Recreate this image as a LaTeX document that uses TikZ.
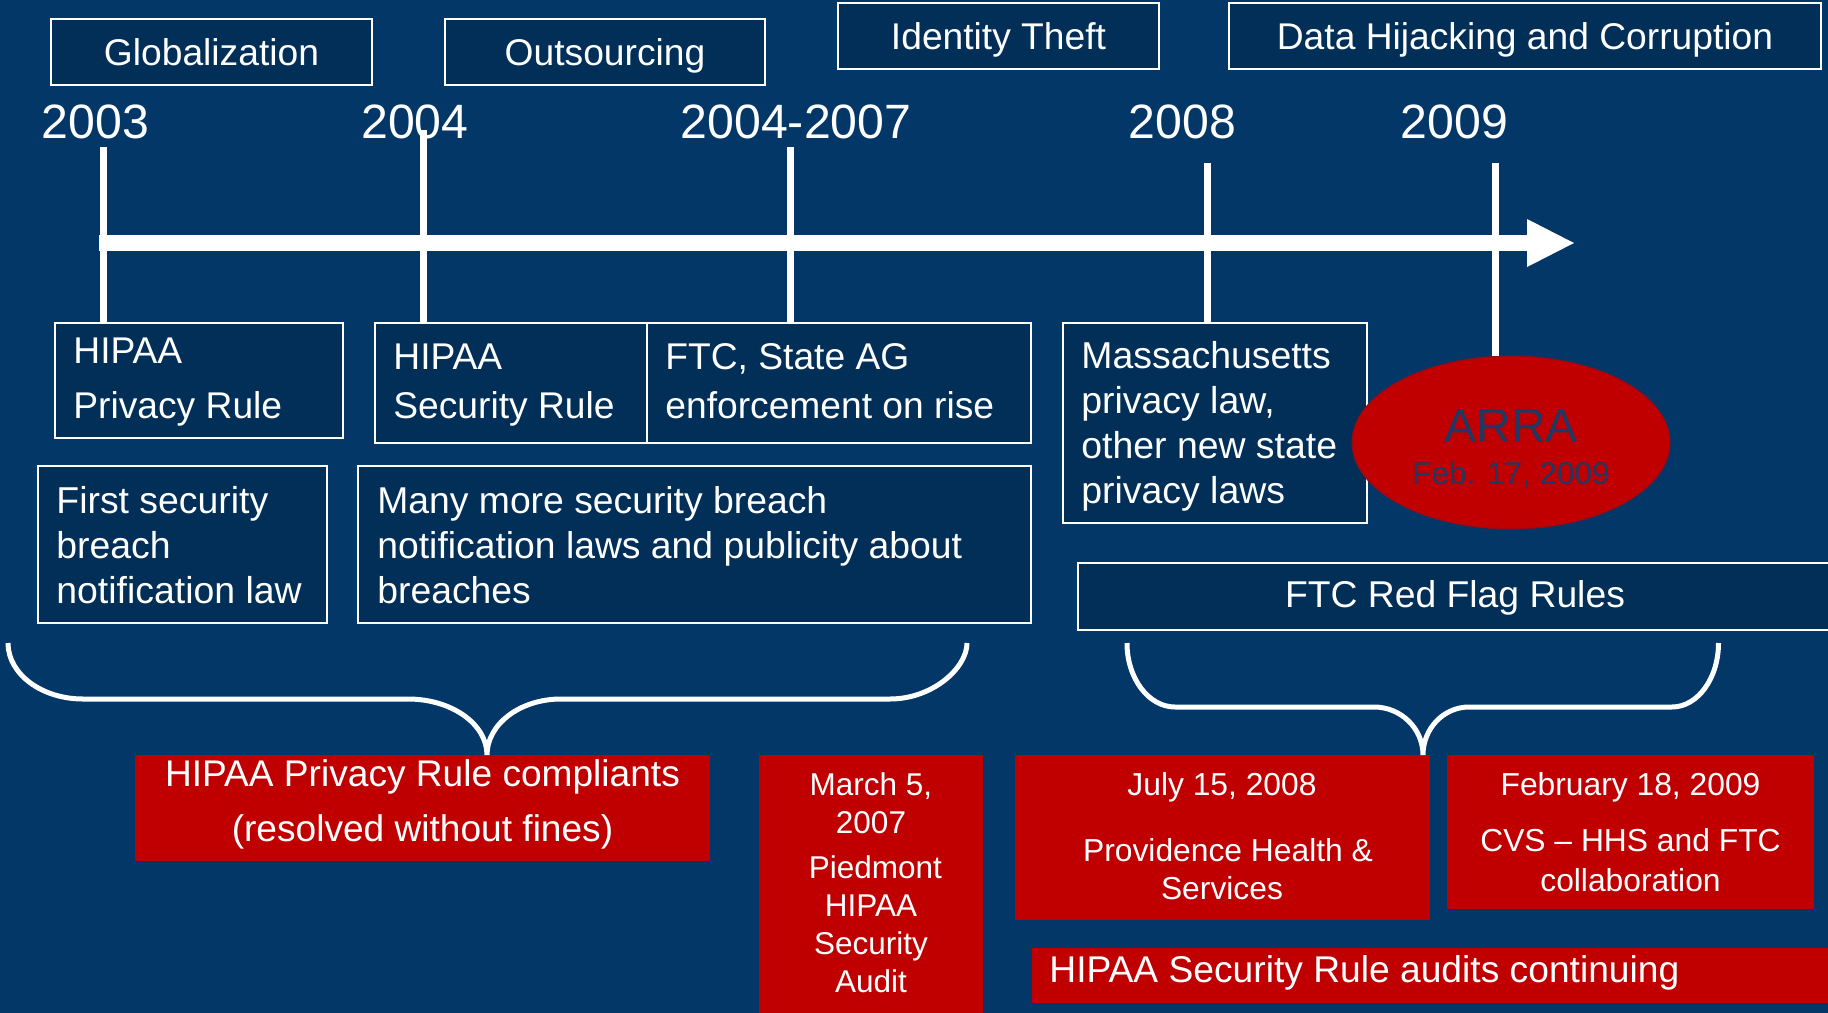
\documentclass[tikz,border=0pt]{standalone}
\usepackage{fontspec}
\setmainfont{Liberation Sans}
\usetikzlibrary{shapes.geometric,fit}

\definecolor{bg}{RGB}{2,55,104}
\definecolor{boxfill}{RGB}{1,47,88}
\definecolor{alertred}{RGB}{192,0,0}
\definecolor{arrablue}{RGB}{31,56,100}

\begin{document}
\begin{tikzpicture}[x=0.5pt,y=-0.5pt,
  tbox/.style={draw=white, line width=1pt, fill=boxfill, inner sep=0pt},
  rbox/.style={fill=alertred, inner sep=0pt},
  lbl/.style={inner sep=0pt, text=white},
  ftop/.style={font=\fontsize{18.6pt}{22pt}\selectfont},
  fyear/.style={font=\fontsize{24.1pt}{28pt}\selectfont},
  tick/.style={draw=white, line width=3.5pt},
  brace/.style={draw=white, line width=2.5pt},
]
\useasboundingbox (0,0) rectangle (1828,1013);
\fill[bg] (0,0) rectangle (1828,1013);
\clip (0,0) rectangle (1828,1013);

% ---- trend boxes along the top
\node[tbox, fit={(51,19) (372,85)}] (glob) {};
\node[lbl, ftop, anchor=base] (globt) at (211.5,65) {Globalization};
\node[tbox, fit={(445,19) (765,85)}] (outs) {};
\node[lbl, ftop, anchor=base] (outst) at (605,65) {Outsourcing};
\node[tbox, fit={(838,3) (1159,69)}] (ident) {};
\node[lbl, ftop, anchor=base] (identt) at (998.5,49) {Identity Theft};
\node[tbox, fit={(1229,3) (1821,69)}] (hijack) {};
\node[lbl, ftop, anchor=base] (hijackt) at (1525,49) {Data Hijacking and Corruption};

% ---- years
\node[lbl, fyear, anchor=base] (y03) at (95.5,138) {2003};
\node[lbl, fyear, anchor=base] (y04) at (415,138) {2004};
\node[lbl, fyear, anchor=base] (y0407) at (796,138) {2004-2007};
\node[lbl, fyear, anchor=base] (y08) at (1182.5,138) {2008};
\node[lbl, fyear, anchor=base] (y09) at (1454.5,138) {2009};

% ---- events below the axis
\node[tbox, fit={(55,323) (343,438)}] (privbox) {};
\node[lbl, anchor=base west, font=\fontsize{18.6pt}{27.5pt}\selectfont] (privt) at (73,363)
  {\parbox[t]{140pt}{\raggedright HIPAA\\Privacy Rule}};
\node[tbox, fit={(375,323) (647,443)}] (secbox) {};
\node[lbl, anchor=base west, font=\fontsize{18.6pt}{24.5pt}\selectfont] (sect) at (393,369)
  {\parbox[t]{140pt}{\raggedright HIPAA\\Security Rule}};
\node[tbox, fit={(647,323) (1031,443)}] (ftcbox) {};
\node[lbl, anchor=base west, font=\fontsize{18.6pt}{24.5pt}\selectfont] (ftct) at (665,369)
  {\parbox[t]{190pt}{\raggedright FTC, State AG\\enforcement on rise}};
\node[tbox, fit={(1063,323) (1367,523)}] (massbox) {};
\node[lbl, anchor=base west, font=\fontsize{18.7pt}{22.5pt}\selectfont] (masst) at (1081,368)
  {\parbox[t]{150pt}{\raggedright Massachusetts\\privacy law,\\other new state\\privacy laws}};

\node[tbox, fit={(38,466) (327,623)}] (firstbox) {};
\node[lbl, anchor=base west, font=\fontsize{18.7pt}{22.5pt}\selectfont] (firstt) at (56,513)
  {\parbox[t]{140pt}{\raggedright First security\\breach\\notification law}};
\node[tbox, fit={(358,466) (1031,623)}] (manybox) {};
\node[lbl, anchor=base west, font=\fontsize{18.65pt}{22.5pt}\selectfont] (manyt) at (377,513)
  {\parbox[t]{320pt}{\raggedright Many more security breach\\notification laws and publicity about\\breaches}};

\node[tbox, fit={(1078,563) (1845,630)}] (redflag) {};
\node[lbl, anchor=base, font=\fontsize{18.65pt}{22pt}\selectfont] (redflagt) at (1455,607) {FTC Red Flag Rules};

% ---- ARRA
\node[ellipse, fill=alertred, draw=alertred!70!bg, line width=0.5pt, inner sep=0pt,
      minimum width=159pt, minimum height=86.5pt] (arra) at (1511,442.5) {};
\node[inner sep=0pt, text=arrablue, anchor=base, font=\fontsize{24pt}{28pt}\selectfont] (arrat) at (1511,442) {ARRA};
\node[inner sep=0pt, text=arrablue, anchor=base, font=\fontsize{15.75pt}{19pt}\selectfont] (arrad) at (1511,484) {Feb. 17, 2009};

% ---- timeline axis and year ticks
\coordinate (axL) at (99,243);
\coordinate (axR) at (1527,243);
\coordinate (axTip) at (1574,243);
\draw[white, line width=8pt] (axL) -- (axR);
\fill[white] (1527,219) -- (axTip) -- (1527,267) -- cycle;

\coordinate (k03) at (103,147);
\coordinate (k04) at (423,130);
\coordinate (k0407) at (790.5,147);
\coordinate (k08) at (1207.5,163);
\coordinate (k09) at (1495,163);
\draw[tick] (k03) -- (k03 |- privbox.north);
\draw[tick] (k04) -- (k04 |- secbox.north);
\draw[tick] (k0407) -- (k0407 |- ftcbox.north);
\draw[tick] (k08) -- (k08 |- massbox.north);
\draw[tick] (k09) -- (k09 |- arra.north);

% ---- enforcement outcomes
\node[rbox, fit={(135,755) (710,861)}] (compl) {};
\node[lbl, anchor=base, font=\fontsize{18.55pt}{27.5pt}\selectfont] (complt) at (422.5,786)
  {\parbox[t]{300pt}{\centering HIPAA Privacy Rule compliants\\(resolved without fines)}};

\node[rbox, fit={(759,755) (983,1030)}] (piedmont) {};
\node[lbl, anchor=base, font=\fontsize{15.75pt}{19pt}\selectfont] (piedmontt) at (871,795)
  {\parbox[t]{110pt}{\centering March 5,\\2007\\[3.5pt]\hspace*{0.28em}Piedmont\\HIPAA\\Security\\Audit}};

\node[rbox, fit={(1015,755) (1430,920)}] (provid) {};
\node[lbl, anchor=base, font=\fontsize{15.9pt}{19pt}\selectfont] (providt) at (1222,795)
  {\parbox[t]{200pt}{\centering July 15, 2008\\[14pt]\hspace*{0.38em}Providence Health \&\\Services}};

\node[rbox, fit={(1447,755) (1814,909)}] (cvs) {};
\node[lbl, anchor=base, font=\fontsize{15.9pt}{19.75pt}\selectfont] (cvst) at (1630.5,795)
  {\parbox[t]{180pt}{\centering February 18, 2009\\[8.5pt]CVS – HHS and FTC\\collaboration}};

\node[rbox, fit={(1032,948) (1845,1003)}] (audits) {};
\node[lbl, anchor=base west, font=\fontsize{18.6pt}{22pt}\selectfont] (auditst) at (1049,982)
  {HIPAA Security Rule audits continuing};

% ---- braces grouping the outcomes
\coordinate (bL) at (487,755);
\coordinate (bR) at (1423,755);
\draw[brace] (8,643) .. controls (8,674) and (41.6,699) .. (83,699) -- (408,699)
  .. controls (451.6,699) and (487,724) .. (bL)
  .. controls (487,724) and (520.2,699) .. (561,699) -- (890,699)
  .. controls (932.5,699) and (967,668) .. (967,643);
\draw[brace] (1127,643) .. controls (1127,678.3) and (1148.5,707) .. (1175,707) -- (1374,707)
  .. controls (1401,707) and (1423,728.5) .. (bR)
  .. controls (1423,728.5) and (1443.6,707) .. (1469,707) -- (1672,707)
  .. controls (1697.7,707) and (1718.5,678.3) .. (1718.5,643);
\end{tikzpicture}
\end{document}
